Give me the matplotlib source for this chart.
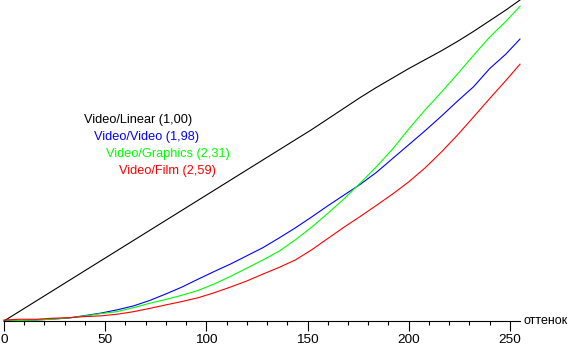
import numpy as np
import matplotlib
matplotlib.use('Agg')
import matplotlib.pyplot as plt
from matplotlib.ticker import MultipleLocator

plt.rcParams['font.family'] = ['Liberation Sans', 'DejaVu Sans']

# input level (0..255) vs measured output level
levels = [0, 8, 16, 24, 32, 40, 48, 56, 64, 72, 80, 88, 96, 104, 112, 120, 128,
          136, 144, 152, 160, 168, 176, 184, 192, 200, 208, 216, 224, 232, 240, 248, 255]

linear   = [0, 8, 16, 24, 32, 40, 48, 56, 64, 72, 80, 88, 96, 104, 112, 120, 128,
            136, 144, 152, 160.5, 169, 177.5, 185.5, 193, 200.5, 207.5, 214.5, 222, 230, 238.5, 247, 255]
video    = [0, 0.4, 0.8, 1.5, 2.4, 4.3, 6.3, 8.9, 12, 16.3, 21.5, 27, 33.3, 39.4, 45.3, 51.8, 58.3,
            66, 74, 82.6, 91.5, 100, 108.5, 118, 129, 140, 151, 162.5, 174.5, 186, 200.5, 212, 224]
graphics = [0, 0.4, 0.8, 1.5, 2.5, 4, 5.9, 7.5, 10.6, 14.1, 17.1, 20.5, 24.3, 29.5, 35.5, 42, 48.5,
            55.5, 64.5, 74.5, 85.5, 97, 109.5, 122.5, 136.5, 152.5, 167.5, 181.5, 196, 211, 225.5, 238, 250]
film     = [0.8, 1.4, 1.4, 2.2, 2.6, 3.5, 4.1, 5.4, 7.4, 10, 12.8, 15.5, 18.5, 22.5, 27, 31.8, 37.3,
            42.6, 48.5, 56.5, 65.5, 74.5, 83, 91.8, 100.8, 110.5, 121.5, 134, 147.5, 162, 176.7, 191, 204]

labels = ['Video/Linear (1,00)', 'Video/Video (1,98)', 'Video/Graphics (2,31)', 'Video/Film (2,59)']
colors = ['#000000', '#0000ff', '#00ff00', '#ff0000']
series = [linear, video, graphics, film]

W, H = 570, 346
fig = plt.figure(figsize=(W / 100, H / 100), dpi=100)
# axes placed in pixel terms: x=0 at px 4, x=255 at px 520, y=0 at py 321, y=255 at py 0
ax = fig.add_axes([4 / W, (H - 321) / H, (520 - 4) / W, 321 / H])

for ys, c in zip(series, colors):
    ax.plot(levels, ys, color=c, lw=0.8, clip_on=False)

ax.set_xlim(0, 255)
ax.set_ylim(0, 255)
for s in ['left', 'right', 'top']:
    ax.spines[s].set_visible(False)
ax.spines['bottom'].set_linewidth(0.8)
ax.set_yticks([])
ax.xaxis.set_major_locator(MultipleLocator(50))
ax.xaxis.set_minor_locator(MultipleLocator(10))
ax.tick_params(axis='x', which='major', length=7.2, width=0.8, pad=2.5, labelsize=9.7)
ax.tick_params(axis='x', which='minor', length=2.9, width=0.8)
ax.patch.set_visible(False)

# legend-like labels
text_pos = [(84, 120), (94, 137), (106.5, 154), (119, 171)]
for (px, py), lab, c in zip(text_pos, labels, colors):
    fig.text(px / W, 1 - py / H, lab, color=c, fontsize=9.2, va='center', ha='left')

fig.text(524 / W, 1 - 321 / H, 'оттенок', fontsize=9, va='center', ha='left')

plt.savefig('out.png', dpi=100)
